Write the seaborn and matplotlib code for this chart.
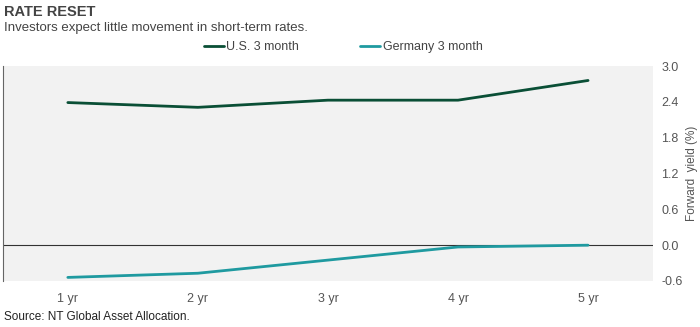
import matplotlib
matplotlib.use("Agg")
import matplotlib.pyplot as plt
import seaborn as sns
import pandas as pd
from matplotlib.lines import Line2D

categories = ["1 yr", "2 yr", "3 yr", "4 yr", "5 yr"]
us_3m = [2.39, 2.31, 2.43, 2.43, 2.76]
de_3m = [-0.54, -0.47, -0.25, -0.03, 0.00]
yticks = [-0.6, 0.0, 0.6, 1.2, 1.8, 2.4, 3.0]

sns.set_theme(style="white")
plt.rcParams['font.family'] = ['Liberation Sans', 'DejaVu Sans']

df = pd.DataFrame({
    "horizon": categories * 2,
    "x": list(range(len(categories))) * 2,
    "value": us_3m + de_3m,
    "series": ["U.S. 3 month"] * 5 + ["Germany 3 month"] * 5,
})

fig = plt.figure(figsize=(7, 3.27), dpi=100)
ax = fig.add_axes([0.004, 0.1407, 0.929, 0.657])
ax.set_facecolor("#f2f2f2")

palette = {"U.S. 3 month": "#0a4f36", "Germany 3 month": "#1f9aa0"}
sns.lineplot(data=df, x="x", y="value", hue="series", palette=palette,
             linewidth=2, ax=ax, legend=False)

ax.axhline(0, color="#333333", linewidth=0.8, zorder=1)
ax.set_xlim(-0.5, 4.5)
ax.set_ylim(-0.6, 3.0)
ax.set_xticks(range(len(categories)))
ax.set_xticklabels(categories, fontsize=9, color="#555555")
ax.set_yticks(yticks)
ax.set_yticklabels([f"{v:.1f}" for v in yticks], fontsize=9, color="#555555")
ax.yaxis.tick_right()
ax.yaxis.set_label_position("right")
ax.set_ylabel("Forward  yield (%)", fontsize=8.5, color="#555555",
              rotation=90, ha="center", va="center")
ax.yaxis.set_label_coords(1.06, 0.5)
ax.set_xlabel("")
ax.tick_params(axis="x", length=0, pad=9)
ax.tick_params(axis="y", length=0, pad=6)
for s in ["top", "right", "bottom"]:
    ax.spines[s].set_visible(False)
ax.spines["left"].set_color("#666666")
ax.spines["left"].set_linewidth(0.8)

handles = [Line2D([0], [0], color=palette[k], lw=2) for k in palette]
fig.legend(handles, list(palette.keys()), loc="center left",
           bbox_to_anchor=(0.275, 0.856), ncol=2, frameon=False,
           fontsize=9, handlelength=1.6, handletextpad=0.2,
           columnspacing=4.9, labelcolor="#444444")

fig.text(0.006, 0.962, "RATE RESET", fontsize=10.5, fontweight="bold",
         color="#444444", va="center")
fig.text(0.006, 0.915, "Investors expect little movement in short-term rates.",
         fontsize=9.5, color="#444444", va="center")
fig.text(0.006, 0.03, "Source: NT Global Asset Allocation.",
         fontsize=8.5, color="#222222", va="center",
         family=['Liberation Sans Narrow', 'Liberation Sans', 'DejaVu Sans'])

fig.savefig("out.png", dpi=100)
